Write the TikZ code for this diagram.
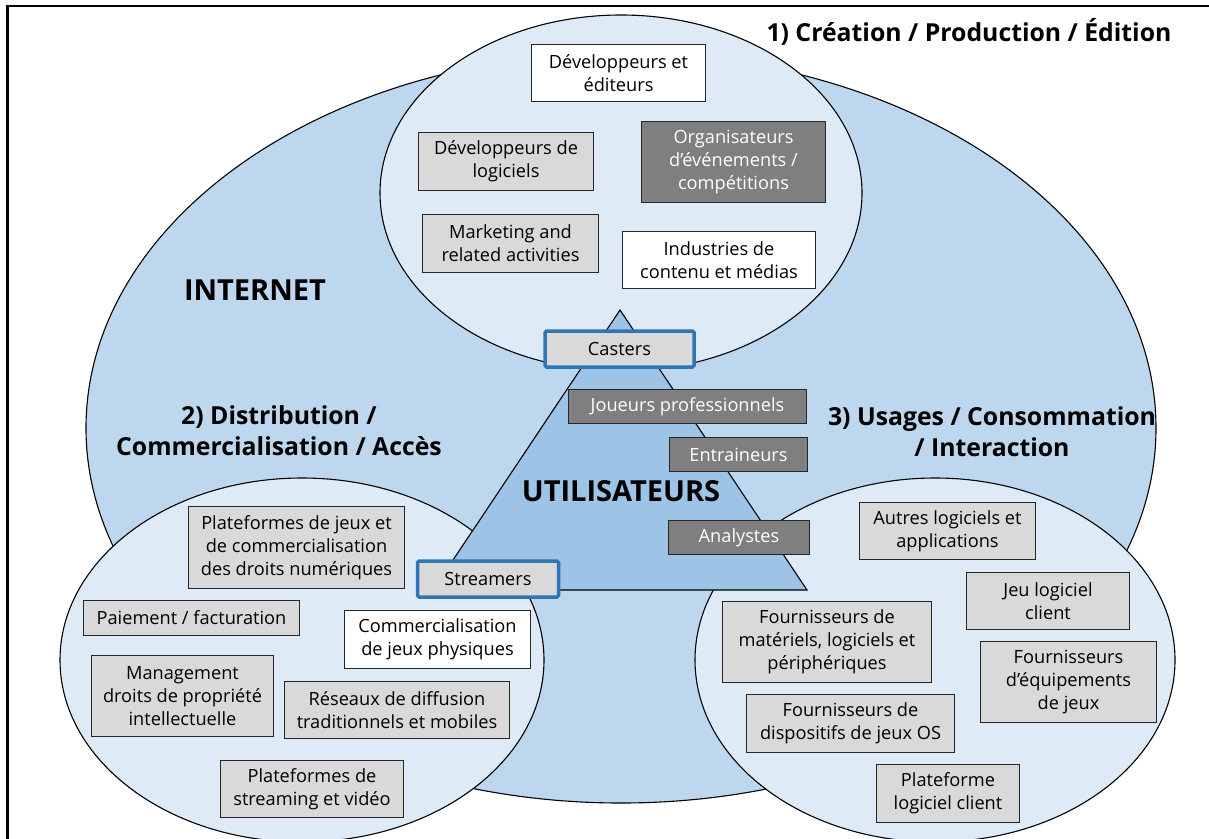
\documentclass[tikz,border=0pt]{standalone}
\usepackage{fontspec}
\setmainfont{Open Sans}
\usetikzlibrary{positioning}
\definecolor{internetblue}{HTML}{BDD7EE}
\definecolor{zoneblue}{HTML}{DEEBF7}
\definecolor{userblue}{HTML}{9DC3E6}
\definecolor{lightbox}{HTML}{D9D9D9}
\definecolor{darkbox}{HTML}{7F7F7F}
\definecolor{rolefrm}{HTML}{2E75B6}
\tikzset{
	actor/.style={draw=black!85, line width=1.2pt, fill=lightbox, align=center, inner sep=0pt, font=\fontsize{18.2}{23}\selectfont},
	plain/.style={actor, fill=white},
	dark/.style={actor, fill=darkbox, text=white},
	role/.style={actor, draw=rolefrm, line width=3.5pt, rounded corners=1.5pt},
	title/.style={align=center, font=\fontsize{24.8}{31}\selectfont\bfseries},
	big/.style={font=\fontsize{29}{34}\selectfont\bfseries}
}
\begin{document}
\begin{tikzpicture}[x=1pt, y=-1pt]
				\useasboundingbox (0,0) rectangle (1209,838);
				\draw[line width=2.5pt] (7.5,6) rectangle (1230,860);
				\draw[line width=1.1pt, fill=internetblue] (621,428) ellipse [x radius=535pt, y radius=375pt];
				\draw[line width=1.1pt, fill=zoneblue] (621,193) ellipse [x radius=241pt, y radius=178pt];
				\draw[line width=1.1pt, fill=zoneblue] (302,660) ellipse [x radius=242pt, y radius=182pt];
				\draw[line width=1.1pt, fill=zoneblue] (935,660) ellipse [x radius=240pt, y radius=182pt];
				\draw[line width=1.1pt, fill=userblue] (620,310) -- (807,590) -- (433,590) -- cycle;
				\node[title] (T1) at (969,32) {1) Création / Production / Édition};
				\node[title] (T2) at (279,431) {2) Distribution /\\Commercialisation / Accès};
				\node[title] (T3) at (992,432) {3) Usages / Consommation\\/ Interaction};
				\node[big] (I) at (255,290) {INTERNET};
				\node[big] (U) at (621,491) {UTILISATEURS};
				\node[plain, minimum width=174, minimum height=57] (A1) at (618.5,73) {Développeurs et\\éditeurs};
				\node[actor, minimum width=175, minimum height=58] (A2) at (506,161.5) {Développeurs de\\logiciels};
				\node[dark, minimum width=184, minimum height=81] (A3) at (733.5,162) {Organisateurs\\d’événements /\\compétitions};
				\node[actor, minimum width=176, minimum height=58] (A4) at (510.5,243.5) {Marketing and\\related activities};
				\node[plain, minimum width=193, minimum height=57] (A5) at (719,260) {Industries de\\contenu et médias};
				\node[role, minimum width=149, minimum height=36] (R1) at (619.5,349) {Casters};
				\node[dark, minimum width=238, minimum height=34] (R2) at (687.5,406.5) {Joueurs professionnels};
				\node[dark, minimum width=138, minimum height=34] (R3) at (738.5,454.5) {Entraineurs};
				\node[dark, minimum width=141, minimum height=34] (R4) at (739,537.5) {Analystes};
				\node[role, minimum width=141, minimum height=36] (R5) at (488,579) {Streamers};
				\node[actor, minimum width=216, minimum height=82] (B1) at (296.5,547.5) {Plateformes de jeux et\\de commercialisation\\des droits numériques};
				\node[actor, minimum width=216, minimum height=35] (B2) at (191.5,618) {Paiement / facturation};
				\node[plain, minimum width=186, minimum height=58] (B3) at (437.5,639.5) {Commercialisation\\de jeux physiques};
				\node[actor, minimum width=182, minimum height=81] (B4) at (182.5,696) {Management\\droits de propriété\\intellectuelle};
				\node[actor, minimum width=225, minimum height=57] (B5) at (397,710) {Réseaux de diffusion\\traditionnels et mobiles};
				\node[actor, minimum width=183, minimum height=57] (B6) at (312,789) {Plateformes de\\streaming et vidéo};
				\node[actor, minimum width=176, minimum height=57] (C1) at (947.5,531) {Autres logiciels et\\applications};
				\node[actor, minimum width=163, minimum height=57] (C2) at (1048,601) {Jeu logiciel\\client};
				\node[actor, minimum width=209, minimum height=81] (C3) at (827,642) {Fournisseurs de\\matériels, logiciels et\\périphériques};
				\node[actor, minimum width=176, minimum height=81] (C4) at (1068.5,682) {Fournisseurs\\d’équipements\\de jeux};
				\node[actor, minimum width=208, minimum height=58] (C5) at (850.5,723.5) {Fournisseurs de\\dispositifs de jeux OS};
				\node[actor, minimum width=143, minimum height=58] (C6) at (948,793.5) {Plateforme\\logiciel client};
			\end{tikzpicture}
\end{document}
